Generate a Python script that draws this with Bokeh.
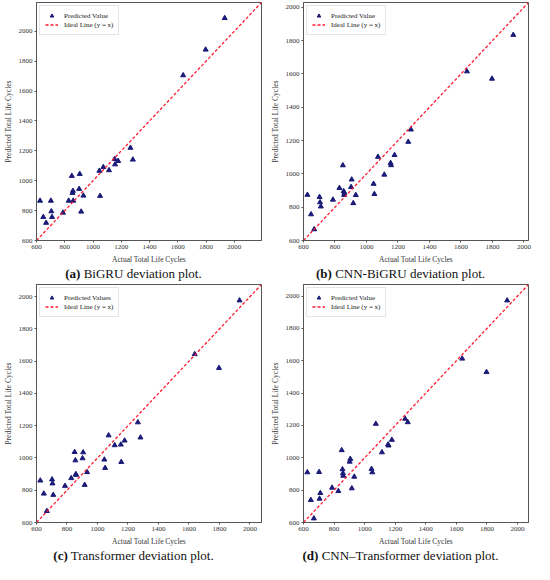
from bokeh.plotting import figure
from bokeh.models import Range1d, FixedTicker, Div
from bokeh.layouts import column, row
from bokeh.embed import file_html
from bokeh.resources import INLINE

# ---- data ----
actual = [625, 648, 668, 702, 705, 710, 787, 828, 850, 855, 858, 860, 902, 906,
          916, 932, 1045, 1050, 1073, 1113, 1153, 1156, 1178, 1265, 1282, 1638, 1797, 1932]

pred_bigru = [866, 757, 718, 866, 795, 757, 786, 866, 1032, 918, 932, 866, 945, 1045,
              793, 900, 1066, 898, 1091, 1070, 1145, 1109, 1132, 1220, 1141, 1705, 1877, 2088]

pred_cnn_bigru = [874, 757, 667, 861, 829, 804, 845, 915, 1051, 896, 873, 885, 921, 966,
                  824, 873, 940, 879, 1102, 995, 1065, 1052, 1113, 1192, 1266, 1615, 1571, 1834]

pred_transformer = [860, 779, 671, 867, 842, 771, 827, 875, 1037, 985, 900, 895, 998, 1035,
                    833, 912, 990, 938, 1140, 1079, 1083, 975, 1108, 1221, 1127, 1644, 1558, 1977]

pred_cnn_transformer = [910, 739, 625, 912, 747, 782, 815, 794, 1047, 929, 904, 889, 976, 993,
                        811, 883, 931, 910, 1210, 1034, 1082, 1076, 1111, 1241, 1220, 1613, 1530, 1973]

tick_values = [600, 800, 1000, 1200, 1400, 1600, 1800, 2000]
axis_min = 600
margin_factor = 1.05

point_labels = ["Predicted Value", "Predicted Value", "Predicted Values", "Predicted Value"]
line_label = "Ideal Line (y = x)"
caption_tags = ["(a)", "(b)", "(c)", "(d)"]
caption_texts = ["BiGRU deviation plot.", "CNN-BiGRU deviation plot.",
                 "Transformer deviation plot.", "CNN\u2013Transformer deviation plot."]

SERIF = "Liberation Serif"
FIG_W, FIG_H, CAP_H = 267, 266, 16


def make_panel(pred, point_label):
    lim = max(max(actual), max(pred)) * margin_factor
    p = figure(width=FIG_W, height=FIG_H,
               x_range=Range1d(axis_min, lim), y_range=Range1d(axis_min, lim),
               output_backend="svg", toolbar_location=None,
               min_border_left=0, min_border_right=6, min_border_top=2, min_border_bottom=0,
               background_fill_color="white", border_fill_color="white")
    p.grid.visible = False
    p.outline_line_color = "#555555"
    p.outline_line_width = 1

    p.scatter(actual, pred, marker="triangle", size=5, color="#1a1a78",
              legend_label=point_label)
    p.line([axis_min, lim], [axis_min, lim], color="#ff1a33", line_width=1.3,
           line_dash="3 2", legend_label=line_label)

    for ax in (p.xaxis[0], p.yaxis[0]):
        ax.ticker = FixedTicker(ticks=tick_values)
        ax.major_label_text_font = SERIF
        ax.major_label_text_font_size = "7px"
        ax.major_label_text_color = "#333333"
        ax.axis_label_text_font = SERIF
        ax.axis_label_text_font_size = "7.5px"
        ax.axis_label_text_font_style = "normal"
        ax.axis_label_text_color = "#333333"
        ax.axis_label_standoff = 3
        ax.major_label_standoff = 2
        ax.major_tick_in = 0
        ax.major_tick_out = 2
        ax.major_tick_line_color = "#555555"
        ax.minor_tick_line_color = None
        ax.axis_line_color = "#555555"
    p.xaxis.axis_label = "Actual Total Life Cycles"
    p.yaxis.axis_label = "Predicted Total Life Cycles"

    lg = p.legend[0]
    lg.location = "top_left"
    lg.margin = 3
    lg.padding = 5
    lg.spacing = 0
    lg.glyph_width = 13
    lg.glyph_height = 9
    lg.label_height = 9
    lg.label_standoff = 6
    lg.label_text_font = SERIF
    lg.label_text_font_size = "7px"
    lg.label_text_color = "#222222"
    lg.border_line_color = "#cccccc"
    lg.border_line_width = 1
    lg.background_fill_color = "white"
    lg.background_fill_alpha = 0.9
    return p


def make_caption(tag, text):
    return Div(text=f"<b>{tag}</b> {text}", width=FIG_W, height=CAP_H, margin=0,
               styles={"text-align": "center", "font-family": SERIF,
                       "font-size": "13px", "color": "#111111", "line-height": "16px",
                       "width": f"{FIG_W}px"})


preds = [pred_bigru, pred_cnn_bigru, pred_transformer, pred_cnn_transformer]
panels = [make_panel(pr, lbl) for pr, lbl in zip(preds, point_labels)]
caps = [make_caption(t, c) for t, c in zip(caption_tags, caption_texts)]

layout = column(
    row(panels[0], panels[1]),
    row(caps[0], caps[1]),
    row(panels[2], panels[3]),
    row(caps[2], caps[3]),
)

open("out.html", "w").write(file_html(layout, INLINE))
